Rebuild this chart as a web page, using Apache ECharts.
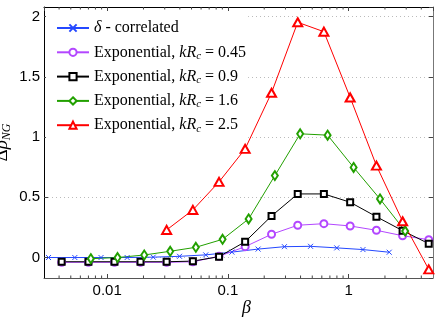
<!DOCTYPE html>
<html><head><meta charset="utf-8">
<script src="https://cdn.jsdelivr.net/npm/echarts@6/dist/echarts.min.js"></script>
<style>html,body{margin:0;padding:0;background:#fff}#c{width:445px;height:318px}</style>
</head><body><div id="c"></div><script>
// ---- data ----
var seriesNames = ['δ - correlated', 'Exponential, kRc = 0.45', 'Exponential, kRc = 0.9', 'Exponential, kRc = 1.6', 'Exponential, kRc = 2.5'];
var kRcLabels = ['0.45', '0.9', '1.6', '2.5'];
var xBlue = [0.00327, 0.0054, 0.0089, 0.01465, 0.0241, 0.0398, 0.0656, 0.108, 0.178, 0.294, 0.484, 0.798, 1.315, 2.17];
var yBlue = [0, 0, 0, 0, 0.003, 0.01, 0.022, 0.045, 0.07, 0.09, 0.093, 0.08, 0.066, 0.044];
var xExp = [0.0042, 0.0070, 0.0115, 0.0189, 0.0311, 0.0513, 0.0845, 0.139, 0.230, 0.379, 0.624, 1.03, 1.70, 2.80, 4.61];
var yMag = [-0.04, -0.04, -0.04, -0.04, -0.04, -0.035, 0.01, 0.09, 0.193, 0.268, 0.281, 0.262, 0.226, 0.181, 0.148];
var yBlack = [-0.035, -0.035, -0.035, -0.035, -0.035, -0.03, 0.007, 0.131, 0.345, 0.528, 0.528, 0.459, 0.339, 0.223, 0.115];
var xGreen = [0.00733, 0.0122, 0.0203, 0.0333, 0.0543, 0.0904, 0.1485, 0.245, 0.397, 0.670, 1.10, 1.82, 2.94];
var yGreen = [-0.01, 0, 0.021, 0.052, 0.085, 0.151, 0.32, 0.68, 1.027, 1.016, 0.748, 0.486, 0.22];
var xRed = [0.0311, 0.0513, 0.0845, 0.139, 0.230, 0.379, 0.624, 1.03, 1.70, 2.80, 4.61];
var yRed = [0.229, 0.395, 0.628, 0.902, 1.368, 1.953, 1.875, 1.329, 0.763, 0.301, -0.098];
var X_MIN = 0.003, X_MAX = 5, Y_MIN = -0.17, Y_MAX = 2.08;
var minorTickMult = [2, 3, 4, 5, 6, 7, 8, 9];
var decades = [0.001, 0.01, 0.1, 1];

// ---- build ----
var minorVals = [];
decades.forEach(function (d) { minorTickMult.forEach(function (m) { var v = +(m * d).toPrecision(3); if (v > X_MIN && v < X_MAX) minorVals.push([v, 0]); }); });
function pairs(xs, ys) { return xs.map(function (x, i) { return [x, ys[i]]; }); }
var serif = 'Liberation Serif';
function mk(name, xs, ys, color, symbol, size) {
  return {
    name: name, type: 'line', data: pairs(xs, ys), symbol: symbol, symbolSize: size,
    color: color, lineStyle: { width: 1, color: color },
    itemStyle: { color: color, borderColor: color, borderWidth: 1 },
    emphasis: { disabled: true }, z: 3
  };
}
var chart = echarts.init(document.getElementById('c'), null, { renderer: 'canvas' });
chart.setOption({
  animation: false,
  backgroundColor: '#fff',
  grid: { left: 44, right: 12, top: 7, bottom: 40, containLabel: false, outerBoundsMode: 'none' },
  legend: {
    data: seriesNames, orient: 'vertical', left: 46, top: 11,
    padding: [8, 2, 6, 10], backgroundColor: '#fff', itemGap: 6.3,
    itemWidth: 32, itemHeight: 9, selectedMode: false,
    formatter: function (name) {
      var i = seriesNames.indexOf(name);
      if (i === 0) return '{i|δ}{n| - correlated}';
      return '{n|Exponential, }{i|kR}{s|c}{n| = ' + kRcLabels[i - 1] + '}';
    },
    textStyle: {
      color: '#000', fontFamily: serif, fontSize: 16, lineHeight: 18,
      rich: {
        n: { fontFamily: serif, fontSize: 16, lineHeight: 18, color: '#000' },
        i: { fontFamily: serif, fontStyle: 'italic', fontSize: 16, lineHeight: 18, color: '#000' },
        s: { fontFamily: serif, fontStyle: 'italic', fontSize: 11, lineHeight: 10, verticalAlign: 'bottom', color: '#000' }
      }
    }
  },
  xAxis: [{
    type: 'log', logBase: 10, min: X_MIN, max: X_MAX, position: 'bottom',
    name: 'β', nameLocation: 'middle', nameGap: 21, nameMoveOverlap: false,
    nameTextStyle: { fontFamily: serif, fontStyle: 'italic', fontSize: 18, color: '#000', padding: [0, 0, 0, 16] },
    axisLine: { show: true, onZero: false, lineStyle: { color: '#555', width: 1 } },
    axisTick: { show: true, inside: true, length: 4, lineStyle: { color: '#444' } },
    axisLabel: { showMinLabel: false, showMaxLabel: false, hideOverlap: false, margin: 5, formatter: function (v) { return String(+(+v).toPrecision(3)); }, fontFamily: 'Liberation Sans', fontSize: 15, color: '#000' },
    splitLine: { show: false }
  }, {
    type: 'log', logBase: 10, min: X_MIN, max: X_MAX, position: 'top',
    axisLine: { show: true, onZero: false, lineStyle: { color: '#000', width: 1 } },
    axisTick: { show: true, inside: true, length: 4, lineStyle: { color: '#444' } },
    axisLabel: { show: false }, splitLine: { show: false }
  }],
  yAxis: [{
    type: 'value', min: Y_MIN, max: Y_MAX, splitNumber: 5, position: 'left',
    name: '{d|Δ}{r|ρ}{s|NG}', nameLocation: 'middle', nameGap: 31, nameRotate: 90, nameMoveOverlap: false,
    nameTextStyle: {
      rich: {
        d: { fontFamily: serif, fontSize: 19, lineHeight: 22, color: '#000' },
        r: { fontFamily: serif, fontStyle: 'italic', fontSize: 19, lineHeight: 22, color: '#000' },
        s: { fontFamily: serif, fontStyle: 'italic', fontSize: 12, lineHeight: 12, verticalAlign: 'bottom', color: '#000' }
      }
    },
    axisLine: { show: true, onZero: false, lineStyle: { color: '#000', width: 1 } },
    axisTick: { show: true, inside: true, length: 4, lineStyle: { color: '#444' } },
    axisLabel: { showMinLabel: false, showMaxLabel: false, hideOverlap: false, margin: 4, fontFamily: 'Liberation Sans', fontSize: 15, color: '#000' },
    splitLine: { show: true, lineStyle: { color: '#bbb', width: 1, type: [1, 3] } }
  }, {
    type: 'value', min: Y_MIN, max: Y_MAX, splitNumber: 5, position: 'right',
    axisLine: { show: true, onZero: false, lineStyle: { color: '#777', width: 1 } },
    axisTick: { show: true, inside: true, length: 4, lineStyle: { color: '#444' } },
    axisLabel: { show: false }, splitLine: { show: false }
  }],
  series: [
    {
      type: 'custom', xAxisIndex: 0, yAxisIndex: 0, silent: true, clip: false, z: 1,
      data: minorVals, encode: { x: 0, y: 1 },
      renderItem: function (p, api) {
        var x = api.value(0);
        var b = api.coord([x, Y_MIN]), t = api.coord([x, Y_MAX]);
        return { type: 'group', children: [
          { type: 'line', shape: { x1: b[0], y1: b[1], x2: b[0], y2: b[1] - 2.5 }, style: { stroke: '#444', lineWidth: 1 } },
          { type: 'line', shape: { x1: t[0], y1: t[1], x2: t[0], y2: t[1] + 2.5 }, style: { stroke: '#444', lineWidth: 1 } }
        ] };
      }
    },
    mk(seriesNames[0], xBlue, yBlue, '#2448ff', 'path://M0,0L10,10M0,10L10,0', 5),
    mk(seriesNames[1], xExp, yMag, '#b347ff', 'emptyCircle', 7),
    mk(seriesNames[2], xExp, yBlack, '#000000', 'emptyRect', 6),
    mk(seriesNames[3], xGreen, yGreen, '#22a000', 'emptyDiamond', [6, 9]),
    mk(seriesNames[4], xRed, yRed, '#ff0000', 'emptyTriangle', [9, 8])
  ]
});
</script></body></html>
